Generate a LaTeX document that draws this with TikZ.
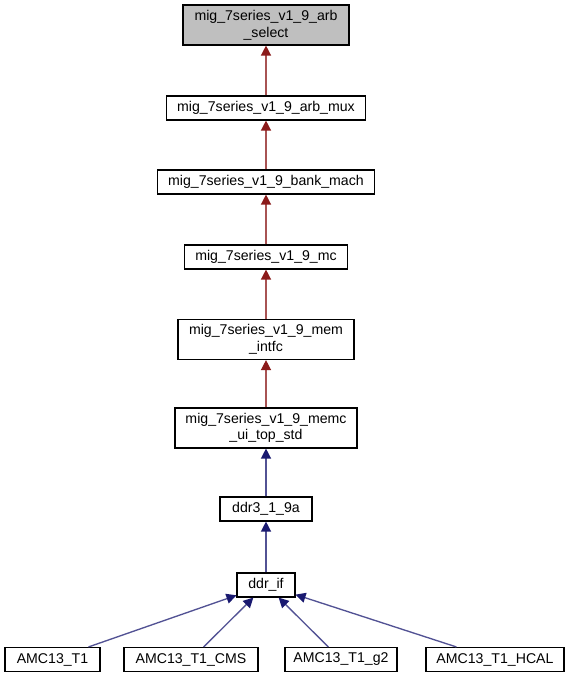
\documentclass[tikz,border=0pt]{standalone}
\usepackage{fontspec}
\setmainfont{Liberation Sans}
\usetikzlibrary{arrows.meta,positioning}
\usepackage{xcolor}

\definecolor{edgered}{RGB}{139,26,26}
\definecolor{edgeblue}{RGB}{25,25,112}
\definecolor{boxgray}{RGB}{191,191,191}

\tikzset{
    classbox/.style={draw=black, line width=0.85pt, fill=white, inner sep=0pt,
        minimum height=18pt, align=center, font=\fontsize{10.6}{12.5}\selectfont},
    twoline/.style={minimum height=30pt},
    redge/.style={draw=edgered!75, line width=1pt,
        -{Triangle[length=7.5pt,width=7.5pt,color=edgered,fill=edgered]}},
    bedge/.style={draw=edgeblue!75, line width=1pt,
        -{Triangle[length=7.5pt,width=7.5pt,color=edgeblue,fill=edgeblue]}}
}

\begin{document}
\begin{tikzpicture}[x=0.75pt,y=-0.75pt]
        % Fix the page to the size of the diagram
        \path[fill=white] (0,0) rectangle (570,679);

        % The chain of modules down the middle
        \node[classbox, twoline, fill=boxgray, minimum width=124.5pt] (arbsel) at (266,25)
            {mig\_7series\_v1\_9\_arb\\\_select};
        \node[classbox, minimum width=149.25pt] (arbmux) at (266,108) {mig\_7series\_v1\_9\_arb\_mux};
        \node[classbox, minimum width=162.75pt] (bankmach) at (266,182) {mig\_7series\_v1\_9\_bank\_mach};
        \node[classbox, minimum width=122.25pt] (mc) at (266,257) {mig\_7series\_v1\_9\_mc};
        \node[classbox, twoline, minimum width=132pt] (memintfc) at (266,339.5)
            {mig\_7series\_v1\_9\_mem\\\_intfc};
        \node[classbox, twoline, minimum width=136.5pt] (memcui) at (266,428)
            {mig\_7series\_v1\_9\_memc\\\_ui\_top\_std};
        \node[classbox, minimum width=69pt] (ddrthree) at (266,509) {ddr3\_1\_9a};
        \node[classbox, minimum width=43.5pt] (ddrif) at (266,585) {ddr\_if};

        % The four top levels along the bottom
        \node[classbox, minimum width=71.25pt] (amct1) at (52.5,659.5) {AMC13\_T1};
        \node[classbox, minimum width=100.5pt] (amccms) at (191,659.5) {AMC13\_T1\_CMS};
        \node[classbox, minimum width=84pt] (amcgtwo) at (341,659.5) {AMC13\_T1\_g2};
        \node[classbox, minimum width=103.5pt] (amchcal) at (495,659.5) {AMC13\_T1\_HCAL};

        % Red edges
        \draw[redge] (arbmux) -- (arbsel);
        \draw[redge] (bankmach) -- (arbmux);
        \draw[redge] (mc) -- (bankmach);
        \draw[redge] (memintfc) -- (mc);
        \draw[redge] (memcui) -- (memintfc);

        % Blue edges
        \draw[bedge] (ddrthree) -- (memcui);
        \draw[bedge] (ddrif) -- (ddrthree);
        \foreach \top in {amct1,amccms,amcgtwo,amchcal} {
            \draw[bedge] (\top) -- (ddrif);
        }
\end{tikzpicture}
\end{document}
